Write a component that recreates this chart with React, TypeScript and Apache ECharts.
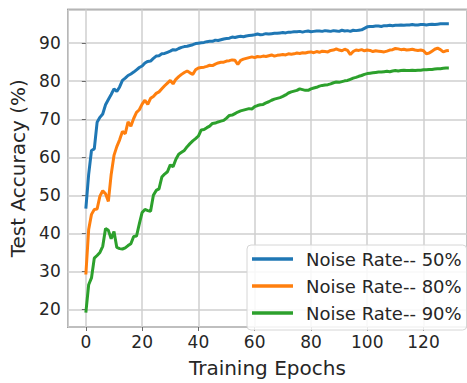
import React, { useEffect, useRef } from "react";
import * as echarts from "echarts";

const seriesNames = ["Noise Rate-- 50%", "Noise Rate-- 80%", "Noise Rate-- 90%"];
const seriesColors = ["#1f77b4", "#ff7f0e", "#2ca02c"];

const noise50 = [
  46.5, 55.5, 61.8, 62.2, 69.2, 70.5, 71.4, 73.8, 75.2, 76.5,
  78.0, 77.3, 78.5, 80.2, 80.8, 81.5, 81.9, 82.4, 83.0, 83.6,
  84.0, 84.8, 85.2, 85.3, 86.0, 86.6, 86.7, 87.2, 87.3, 87.6,
  87.9, 88.3, 88.2, 88.6, 88.9, 89.1, 89.2, 89.4, 89.6, 89.9,
  90.0, 90.1, 90.2, 90.4, 90.5, 90.5, 90.8, 90.7, 90.9, 91.1,
  91.2, 91.3, 91.6, 91.5, 91.7, 91.8, 91.7, 91.9, 92.0, 92.1,
  92.2, 92.4, 92.2, 92.3, 92.5, 92.4, 92.5, 92.6, 92.6, 92.7,
  92.8, 92.7, 92.9, 92.9, 93.0, 93.0, 93.1, 92.9, 93.1, 93.2,
  93.0, 93.1, 93.2, 93.2, 93.1, 93.3, 93.2, 93.1, 93.3, 93.2,
  93.1, 93.4, 93.2, 93.3, 93.1, 93.4, 93.3, 93.4, 93.5, 93.9,
  94.3, 94.4, 94.4, 94.5, 94.5, 94.4, 94.6, 94.6, 94.7, 94.6,
  94.7, 94.7, 94.8, 94.7, 94.8, 94.8, 94.9, 94.8, 94.8, 94.9,
  94.9, 94.8, 94.9, 95.0, 94.9, 95.0, 95.1, 95.1, 95.1, 95.1,
];

const noise80 = [
  29.2, 41.0, 45.0, 46.3, 46.4, 49.8, 51.2, 50.4, 48.4, 55.5,
  60.5, 62.8, 64.6, 66.8, 66.2, 69.3, 68.2, 70.2, 71.8, 72.5,
  74.0, 75.0, 73.9, 75.5, 76.0, 76.8, 77.2, 78.0, 78.8, 79.5,
  80.2, 79.3, 80.5, 81.2, 81.8, 82.3, 82.7, 82.2, 81.8, 83.0,
  83.5, 83.6, 83.7, 83.9, 84.2, 84.1, 84.5, 84.8, 85.0, 85.0,
  85.3, 85.4, 85.6, 85.5, 84.4, 85.5, 85.8, 86.0, 86.2, 86.4,
  86.2, 86.5, 86.4, 86.6, 86.5, 86.7, 86.9, 86.6, 86.8, 86.9,
  87.0, 86.9, 87.2, 87.1, 87.2, 87.4, 87.3, 87.5, 87.4, 87.6,
  87.7, 87.5, 87.8, 87.6, 87.9, 87.8, 87.7, 88.1, 88.2, 88.5,
  88.2, 88.0, 88.4, 88.1, 87.0, 87.8, 88.2, 88.1, 88.3, 88.0,
  88.2, 88.1, 87.8, 88.0, 87.9, 87.8, 87.7, 87.9, 88.2, 88.3,
  88.6, 88.5, 88.3, 88.4, 88.2, 88.3, 88.4, 88.2, 88.1, 88.2,
  88.0, 87.2, 87.4, 87.9, 88.4, 88.7, 88.3, 87.7, 88.0, 88.1,
];

const noise90 = [
  19.2, 26.5, 28.3, 33.5, 34.2, 35.0, 36.6, 41.3, 40.8, 38.6,
  40.5, 36.3, 36.0, 35.9, 36.2, 36.8, 37.3, 39.2, 39.3, 42.5,
  45.5, 46.3, 46.0, 45.8, 50.0, 51.3, 51.7, 54.8, 55.6, 56.2,
  58.0, 57.5, 59.5, 60.8, 61.3, 61.8, 62.8, 63.6, 64.3, 64.9,
  65.6, 67.2, 67.3, 67.8, 68.2, 68.9, 69.0, 69.3, 69.5, 69.7,
  70.3, 71.0, 71.1, 71.5, 71.9, 72.2, 72.4, 72.6, 72.8, 72.7,
  73.3, 73.6, 73.8, 73.9, 74.3, 74.6, 75.0, 75.3, 75.5, 75.7,
  76.0, 76.4, 76.9, 77.2, 77.4, 77.6, 78.0, 77.8, 77.6, 77.6,
  78.0, 78.2, 78.4, 78.7, 78.9, 79.0, 79.1, 79.3, 79.6, 79.8,
  79.7, 79.9, 80.1, 80.2, 80.5, 80.8, 81.0, 81.3, 81.5, 81.8,
  82.0, 82.1, 82.2, 82.3, 82.4, 82.4, 82.5, 82.6, 82.5, 82.7,
  82.8, 82.7, 82.8, 82.9, 82.8, 82.8, 82.9, 82.8, 82.9, 82.9,
  83.0, 83.0, 83.1, 83.1, 83.2, 83.3, 83.3, 83.4, 83.5, 83.5,
];

const seriesValues = [noise50, noise80, noise90];

const xTitle = "Training Epochs";
const yTitle = "Test Accuracy (%)";

const FONT = "DejaVu Sans";
const TEXT = "#262626";

export default function App() {
  const ref = useRef<HTMLDivElement>(null);

  useEffect(() => {
    document.body.style.margin = "0";
    document.body.style.overflow = "hidden";
    document.documentElement.style.overflow = "hidden";
    if (!ref.current) return;
    const chart = echarts.init(ref.current, null, { renderer: "svg" });
    chart.setOption({
      animation: false,
      backgroundColor: "#ffffff",
      textStyle: { fontFamily: FONT },
      grid: {
        left: 67.7,
        top: 9.5,
        width: 418.3,
        height: 331.5,
        show: true,
        borderColor: "#6a6a6a",
        borderWidth: 1.3,
        backgroundColor: "transparent",
      },
      legend: {
        orient: "vertical",
        left: 247,
        top: 245,
        data: seriesNames,
        icon: "rect",
        itemWidth: 41,
        itemHeight: 3.5,
        itemGap: 5,
        padding: [3, 5, 6, 5],
        backgroundColor: "rgba(255,255,255,0.85)",
        borderColor: "#d6d6d6",
        borderWidth: 1,
        borderRadius: 4,
        textStyle: {
          fontFamily: FONT,
          fontSize: 18,
          lineHeight: 22,
          color: TEXT,
          padding: [0, 0, 0, 8],
        },
      },
      xAxis: {
        type: "value",
        min: -6.45,
        max: 135.45,
        minInterval: 20,
        maxInterval: 20,
        splitNumber: 7,
        name: xTitle,
        nameLocation: "middle",
        nameGap: 31,
        nameTextStyle: { fontFamily: FONT, fontSize: 20, color: TEXT },
        axisLine: { show: false },
        axisTick: { show: true, length: 4, lineStyle: { color: "#6a6a6a", width: 1 } },
        axisLabel: {
          fontFamily: FONT,
          fontSize: 17,
          color: TEXT,
          margin: 6,
          showMinLabel: false,
          showMaxLabel: false,
        },
        splitLine: { show: true, lineStyle: { color: "#cfcfcf", width: 1.5 } },
      },
      yAxis: {
        type: "value",
        min: 15.4,
        max: 98.85,
        minInterval: 10,
        maxInterval: 10,
        splitNumber: 8,
        name: yTitle,
        nameLocation: "middle",
        nameGap: 32,
        nameTextStyle: { fontFamily: FONT, fontSize: 20, color: TEXT },
        axisLine: { show: false },
        axisTick: { show: true, length: 4, lineStyle: { color: "#6a6a6a", width: 1 } },
        axisLabel: {
          fontFamily: FONT,
          fontSize: 17,
          color: TEXT,
          margin: 7,
          showMinLabel: false,
          showMaxLabel: false,
        },
        splitLine: { show: true, lineStyle: { color: "#cfcfcf", width: 1.5 } },
      },
      series: seriesValues.map((vals, k) => ({
        name: seriesNames[k],
        type: "line",
        data: vals.map((v, i) => [i, v]),
        showSymbol: false,
        symbol: "none",
        lineStyle: { color: seriesColors[k], width: 3 },
        itemStyle: { color: seriesColors[k] },
        z: 2 + k,
      })),
    });
    return () => chart.dispose();
  }, []);

  return <div ref={ref} style={{ width: 467, height: 383 }} />;
}
